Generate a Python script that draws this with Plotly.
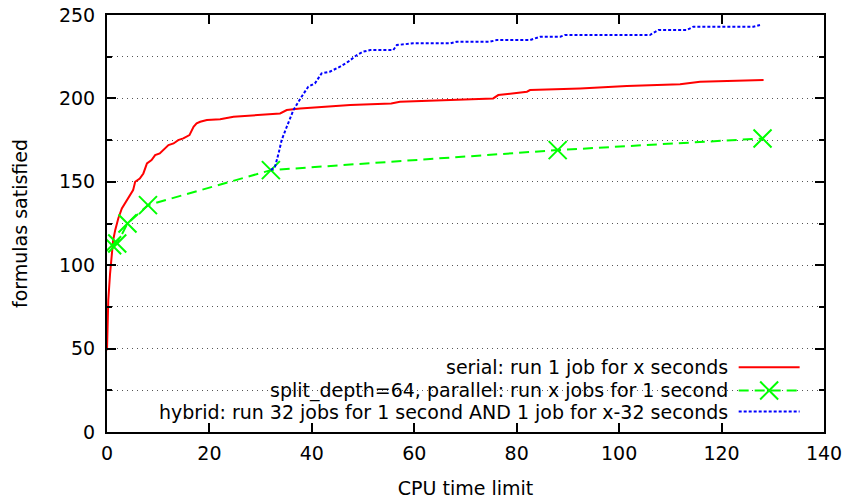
import plotly.graph_objects as go

# ---- data ----
serial_x = [0, 0.06, 0.25, 0.6, 0.9, 1.2, 1.6, 2.2, 2.9, 3.5, 4.2, 4.8, 5.1, 5.5, 6.4, 7.1,
            7.8, 8.7, 9.4, 10.3, 11.0, 12.0, 13.0, 13.9, 14.9, 16.1, 16.9, 17.5, 18.2, 19.5,
            22.1, 24.0, 24.7, 33.8, 35.1, 37.7, 47.5, 55.5, 57.2, 75.4, 76.4, 82.0, 82.6,
            92.4, 101.5, 111.9, 115.8, 128.2]
serial_y = [49, 65, 79, 95, 104, 115, 121, 128, 134, 137, 141, 144, 145, 150, 152, 155,
            161, 163, 166, 167, 169, 172, 173, 175, 176, 178, 183, 185, 186, 187,
            187.5, 188.5, 189, 191, 193, 194, 196, 197, 198, 200, 202, 204, 205,
            206, 207.5, 208.5, 210, 211]

parallel_x = [1, 2, 4, 8, 32, 88, 128]
parallel_y = [112, 113, 125, 136, 157, 169, 176]

hybrid_x = [32, 32.8, 33.5, 34.1, 35.1, 36.4, 38.0, 39.3, 40.6, 41.9, 43.5, 45.5, 47.1,
            48.8, 50.0, 51.4, 55.9, 56.6, 59.8, 67.0, 68.3, 74.8, 76.1, 82.6, 84.6, 88.5,
            89.4, 106.0, 107.7, 113.2, 114.5, 126.2, 127.5]
hybrid_y = [157, 159, 167, 175, 183, 193, 201, 207, 209, 215, 216, 219, 222, 226, 228,
            229, 229, 232, 233, 233, 234, 234, 235, 235, 237, 237, 238, 238, 241, 241,
            243, 243, 244]

legend_labels = [
    "serial: run 1 job for x seconds",
    "split_depth=64, parallel: run x jobs for 1 second",
    "hybrid: run 32 jobs for 1 second AND 1 job for x-32 seconds",
]
x_ticks = [0, 20, 40, 60, 80, 100, 120, 140]
y_ticks = [0, 50, 100, 150, 200, 250]

RED = "#ff0000"
GREEN = "#00ff00"
BLUE = "#0000ff"
FONT = "DejaVu Sans"
FS = 19

fig = go.Figure()
fig.add_trace(go.Scatter(x=serial_x, y=serial_y, mode="lines",
                         line=dict(color=RED, width=2), showlegend=False))
fig.add_trace(go.Scatter(x=parallel_x, y=parallel_y, mode="lines+markers",
                         line=dict(color=GREEN, width=2, dash="10px,6px"),
                         marker=dict(symbol="x-thin", size=18,
                                     line=dict(color=GREEN, width=2)),
                         showlegend=False))
fig.add_trace(go.Scatter(x=hybrid_x, y=hybrid_y, mode="lines",
                         line=dict(color=BLUE, width=2, dash="3px,2px"), showlegend=False))

# manual gnuplot-style legend (text right, sample on the right)
rows_y = [0.155, 0.0995, 0.049]
text_x = 0.869
s0, s1 = 0.881, 0.966
for lab, yy in zip(legend_labels, rows_y):
    fig.add_annotation(x=text_x, y=yy, xref="paper", yref="paper", text=lab,
                       showarrow=False, xanchor="right", yanchor="middle",
                       font=dict(family=FONT, size=FS, color="black"))
fig.add_shape(type="line", xref="paper", yref="paper", x0=s0, x1=s1, y0=rows_y[0], y1=rows_y[0],
              line=dict(color=RED, width=2))
fig.add_shape(type="line", xref="paper", yref="paper", x0=s0, x1=s1, y0=rows_y[1], y1=rows_y[1],
              line=dict(color=GREEN, width=2, dash="10px,6px"))
fig.add_shape(type="line", xref="paper", yref="paper", x0=s0, x1=s1, y0=rows_y[2], y1=rows_y[2],
              line=dict(color=BLUE, width=2, dash="3px,2px"))
cx, cy = (s0 + s1) / 2, rows_y[1]
dx, dy = 9 / 717, 9 / 417
fig.add_shape(type="line", xref="paper", yref="paper", x0=cx - dx, x1=cx + dx, y0=cy - dy, y1=cy + dy,
              line=dict(color=GREEN, width=2))
fig.add_shape(type="line", xref="paper", yref="paper", x0=cx - dx, x1=cx + dx, y0=cy + dy, y1=cy - dy,
              line=dict(color=GREEN, width=2))

axis_common = dict(showline=True, linecolor="black", linewidth=2, mirror="ticks",
                   ticks="inside", ticklen=9, tickwidth=2, tickcolor="black",
                   zeroline=False, automargin=False,
                   tickfont=dict(family=FONT, size=FS, color="black"))

fig.update_xaxes(range=[0, 140], tickvals=x_ticks, showgrid=False,
                 title=dict(text="CPU time limit", font=dict(family=FONT, size=FS, color="black"),
                            standoff=22),
                 ticklabelstandoff=3,
                 **axis_common)
fig.update_yaxes(range=[0, 250], tickvals=y_ticks, showgrid=True,
                 gridcolor="#555555", gridwidth=1, griddash="1px,4px",
                 minor=dict(dtick=25, tick0=0, ticks="inside", ticklen=5, tickwidth=2,
                            tickcolor="black", showgrid=True, gridcolor="#555555",
                            gridwidth=1, griddash="1px,4px"),
                 title=dict(text="formulas satisfied", font=dict(family=FONT, size=FS, color="black"),
                            standoff=26),
                 ticklabelstandoff=6,
                 **axis_common)

fig.update_layout(width=845, height=499,
                  margin=dict(l=107, r=21, t=15, b=67, pad=0),
                  plot_bgcolor="white", paper_bgcolor="white",
                  font=dict(family=FONT, size=FS, color="black"),
                  showlegend=False)

fig.write_html("out.html",
               config={"displayModeBar": False},
               post_script="document.body.style.margin='0';document.body.style.padding='0';"
                           "document.body.style.overflow='hidden';"
                           "document.documentElement.style.overflow='hidden';")
